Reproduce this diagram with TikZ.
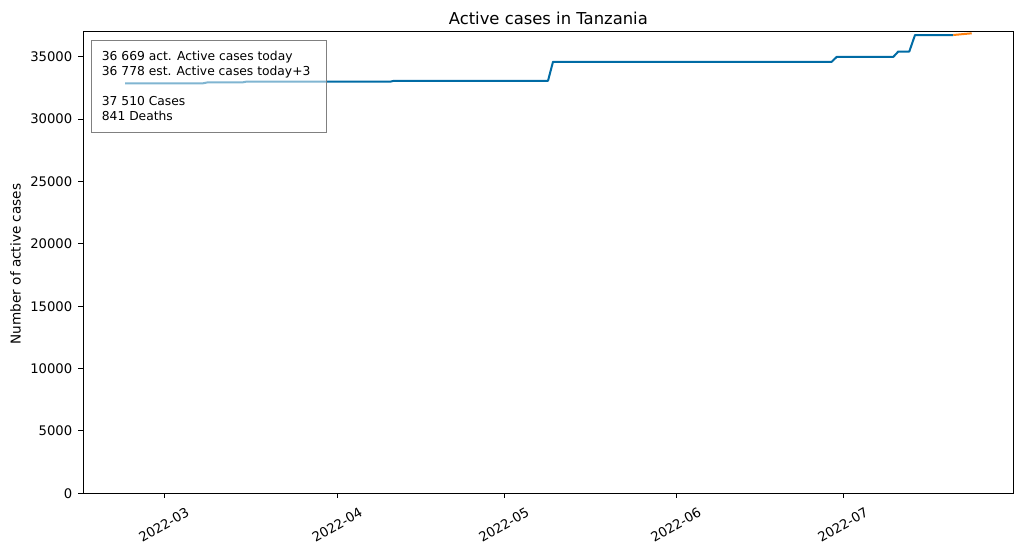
\documentclass[tikz,border=0pt]{standalone}
\usepackage{fontspec}
\setmainfont{DejaVu Sans}
\definecolor{cbblue}{RGB}{0,107,164}
\definecolor{cborange}{RGB}{255,128,14}
\definecolor{legedge}{RGB}{128,128,128}
\begin{document}
\begin{tikzpicture}[x=1pt,y=-1pt,
  frame/.style={draw=black,line width=0.9pt},
  tickmark/.style={draw=black,line width=0.9pt},
  yticklab/.style={font=\fontsize{13.2}{15}\selectfont,anchor=east,inner sep=0pt},
  xticklab/.style={font=\fontsize{13.2}{15}\selectfont,rotate=30,anchor=center,inner sep=0pt},
  axlabel/.style={font=\fontsize{13.6}{16}\selectfont,inner sep=0pt},
  titlelab/.style={font=\fontsize{16.4}{19}\selectfont,inner sep=0pt},
  legtext/.style={font=\fontsize{12.3}{14}\selectfont,anchor=base west,inner sep=0pt},
  series/.style={draw=cbblue,line width=2pt,line join=round},
  forecast/.style={draw=cborange,line width=2pt,line join=round},
  legbox/.style={draw=legedge,line width=1pt,fill=white,fill opacity=0.5}
]
\useasboundingbox (0,0) rectangle (1023,554);
% data line
\coordinate (p0) at (125,83.3);
\coordinate (p1) at (203,83.3);
\coordinate (p2) at (208,82.3);
\coordinate (p3) at (243,82.3);
\coordinate (p4) at (246,81.7);
\coordinate (p5) at (390,81.7);
\coordinate (p6) at (394,80.8);
\coordinate (p7) at (548,80.8);
\coordinate (p8) at (553,61.8);
\coordinate (p9) at (831.7,61.8);
\coordinate (p10) at (836.7,56.9);
\coordinate (p11) at (893.3,56.9);
\coordinate (p12) at (898.3,51.5);
\coordinate (p13) at (909.3,51.5);
\coordinate (p14) at (915,35);
\coordinate (p15) at (953.3,35);
\coordinate (p16) at (971.7,33.3);
\draw[series] (p0) -- (p1) -- (p2) -- (p3) -- (p4) -- (p5) -- (p6) -- (p7) -- (p8) -- (p9) -- (p10) -- (p11) -- (p12) -- (p13) -- (p14) -- (p15);
\draw[forecast] (p15) -- (p16);
% axes frame
\coordinate (axtl) at (83.3,31.3);
\coordinate (axbr) at (1013.3,493.3);
\draw[frame] (axtl) rectangle (axbr);
% y ticks
\foreach \v/\yy in {0/493.3,5000/430.9,10000/368.5,15000/306.2,20000/243.8,25000/181.4,30000/119.1,35000/56.7}{
  \coordinate (yt\v) at (83.3,\yy);
  \coordinate (ytl\v) at (78.3,\yy);
  \draw[tickmark] (yt\v) -- (ytl\v);
  \node[yticklab] (ylab\v) at (72.5,\yy) {\v};
}
% x ticks
\foreach \m/\xx in {03/164.3,04/337.7,05/504.3,06/676.3,07/843.3}{
  \coordinate (xt\m) at (\xx,493.3);
  \coordinate (xtl\m) at (\xx,498.3);
  \draw[tickmark] (xt\m) -- (xtl\m);
  \node[xticklab] (xlab\m) at (\xx-0.5,525) {2022-\m};
}
% labels
\node[titlelab,anchor=base] (title) at (548.3,24) {Active cases in Tanzania};
\node[axlabel,rotate=90,anchor=base] (ylabel) at (20.7,264) {Number of active cases};
% legend box
\coordinate (lgtl) at (91.7,40);
\coordinate (lgbr) at (326.7,132.3);
\draw[legbox] (lgtl) rectangle (lgbr);
\node[legtext] (l1) at (101.7,60) {36 669 act. Active cases today};
\node[legtext] (l2) at (101.7,75) {36 778 est. Active cases today+3};
\node[legtext] (l3) at (101.7,105) {37 510 Cases};
\node[legtext] (l4) at (101.7,120) {841 Deaths};
\end{tikzpicture}
\end{document}
